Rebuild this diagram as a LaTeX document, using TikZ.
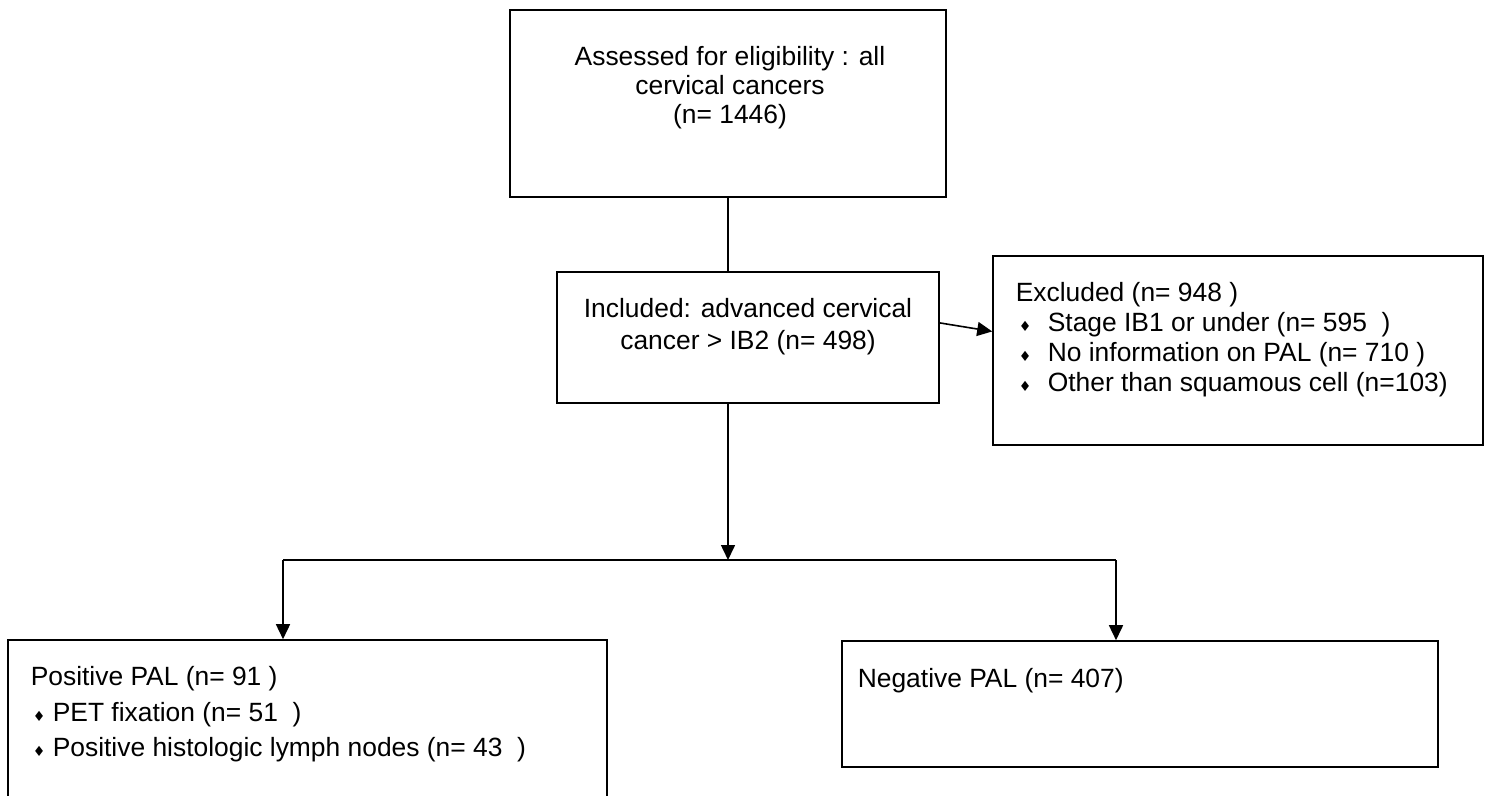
\documentclass[tikz,border=0pt]{standalone}
\usepackage{fontspec}
\setmainfont{Liberation Sans}
\newfontfamily\symfont{DejaVu Sans}
\usepackage{tikz}
\usetikzlibrary{arrows.meta,calc}
\newcommand{\itmA}{\makebox[16pt][l]{\hspace{1.5pt}{\symfont\scriptsize ♦}}}
\newcommand{\itmB}{\makebox[11pt][l]{\hspace{1pt}{\symfont\scriptsize ♦}}}
\tikzset{mybox/.style={draw,rectangle,line width=.8pt,inner sep=0pt},
mytext/.style={inner sep=0pt,font=\fontsize{13.2}{15}\selectfont}}

\begin{document}
\begin{tikzpicture}[x=.5pt,y=-.5pt,>={Triangle[width=7pt,length=7.5pt]},line width=.8pt]
\useasboundingbox (0,0) rectangle (1491,796);
\clip (0,0) rectangle (1491,796);
% boxes
\node[mybox,minimum width=218pt,minimum height=93.5pt] (top) at (728,103.5) {};
\node[mybox,minimum width=191pt,minimum height=65.5pt] (incl) at (748,337.5) {};
\node[mybox,minimum width=245pt,minimum height=94.5pt] (excl) at (1238,350.5) {};
\node[mybox,minimum width=299.5pt,minimum height=95pt] (pos) at (307.5,735) {};
\node[mybox,minimum width=298pt,minimum height=63pt] (neg) at (1140,704) {};
% texts
\node[mytext,anchor=north,align=center,font=\fontsize{13.2}{14.5}\selectfont] (toptxt) at (730,46)
{Assessed for eligibility : all\\ cervical cancers\\ (n= 1446)};
\node[mytext,anchor=north,align=center,font=\fontsize{13.2}{16}\selectfont] (incltxt) at (748,298)
{Included: advanced cervical\\ cancer > IB2 (n= 498)};
\node[mytext,anchor=north west,align=left] (excltxt) at (1015,282)
{Excluded (n= 948 )\\
\itmA Stage IB1 or under (n= 595~~)\\
\itmA No information on PAL (n= 710 )\\
\itmA Other than squamous cell (n=103)};
\node[mytext,anchor=north west,align=left,font=\fontsize{13.2}{17.75}\selectfont] (postxt) at (30,666)
{Positive PAL (n= 91 )\\
\itmB PET fixation (n= 51~~)\\
\itmB Positive histologic lymph nodes (n= 43~~)};
\node[mytext,anchor=north west] (negtxt) at (857,668) {Negative PAL (n= 407)};
% connectors
\coordinate (split) at (728,560);
\coordinate (lft) at (283,560);
\coordinate (rgt) at (1116,560);
\draw (top.south) -- (top.south |- incl.north);
\draw[->] (top.south |- incl.south) -- (split);
\draw (lft) -- (rgt);
\draw[->] (lft) -- (lft |- pos.north);
\draw[->] (rgt) -- (rgt |- neg.north);
\draw[->] ($(incl.north east)!0.39!(incl.south east)$) -- ($(excl.north west)!0.4!(excl.south west)$);
\end{tikzpicture}
\end{document}
